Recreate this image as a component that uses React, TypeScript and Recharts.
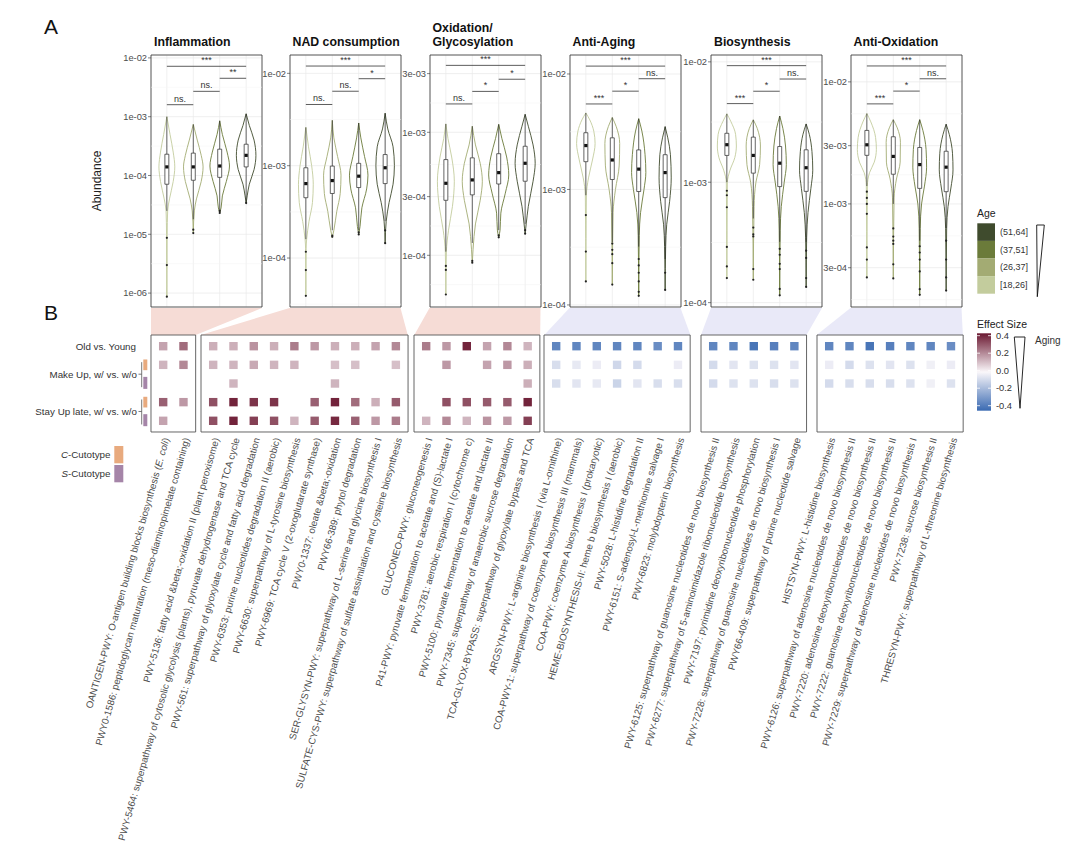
import React from "react";
import {
  ScatterChart,
  Scatter,
  XAxis,
  YAxis,
  CartesianGrid,
  ReferenceLine,
  ReferenceArea,
} from "recharts";

const FONT = "'Liberation Sans', Arial, sans-serif";

// ---------- panel A: abundance by age group ----------
const AGE_GROUPS = ["[18,26]", "(26,37]", "(37,51]", "(51,64]"];
const AGE_COLORS = ["#c3cc9d", "#a3ab73", "#6b7b3a", "#3f4b2d"];

const PANEL_TITLES = [
  ["Inflammation"],
  ["NAD consumption"],
  ["Oxidation/", "Glycosylation"],
  ["Anti-Aging"],
  ["Biosynthesis"],
  ["Anti-Oxidation"],
];

// violin outline: [abundance, half width] from bottom to top
const INFL_VIOLINS = [
  [[8.7e-7, 0], [1.0e-5, 0.012], [2.5e-5, 0.03], [4.0e-5, 0.1], [7.9e-5, 0.24], [1.4e-4, 0.3], [2.5e-4, 0.24], [5.0e-4, 0.12], [1.0e-3, 0]],
  [[1.05e-5, 0], [2.5e-5, 0.04], [4.0e-5, 0.12], [7.9e-5, 0.3], [1.4e-4, 0.37], [2.2e-4, 0.3], [4.0e-4, 0.15], [7.4e-4, 0]],
  [[2.3e-5, 0], [2.8e-5, 0.05], [4.5e-5, 0.1], [7.9e-5, 0.25], [1.45e-4, 0.37], [2.5e-4, 0.28], [5.0e-4, 0.1], [8.5e-4, 0]],
  [[3.4e-5, 0], [4.5e-5, 0.04], [7.1e-5, 0.12], [1.26e-4, 0.3], [2.2e-4, 0.37], [4.0e-4, 0.3], [7.1e-4, 0.12], [1.12e-3, 0]],
];
// [whisker low, q1, median, q3, whisker high]
const INFL_BOXES = [
  [2.5e-5, 7.1e-5, 1.4e-4, 2.3e-4, 1.0e-3],
  [1.8e-5, 8.3e-5, 1.4e-4, 2.4e-4, 7.4e-4],
  [2.3e-5, 9.3e-5, 1.45e-4, 2.8e-4, 8.5e-4],
  [3.4e-5, 1.4e-4, 2.2e-4, 3.4e-4, 1.12e-3],
];
const INFL_OUTLIERS = [[8.7e-6, 3.0e-6, 8.7e-7], [1.2e-5, 1.05e-5], [2.3e-5, 2.5e-5], [3.4e-5]];
const INFL_SIG = [[1, 2, "ns.", 1.6e-3], [2, 3, "ns.", 2.7e-3], [3, 4, "**", 4.5e-3], [1, 4, "***", 7.2e-3]];
const INFL_TICKS = [1e-6, 1e-5, 1e-4, 1e-3, 1e-2];
const INFL_DOMAIN = [5.8e-7, 1.12e-2];

const NAD_VIOLINS = [
  [[3.9e-5, 0], [1.26e-4, 0.01], [1.6e-4, 0.03], [2.5e-4, 0.12], [4.0e-4, 0.25], [6.3e-4, 0.28], [1.0e-3, 0.22], [1.6e-3, 0.1], [2.6e-3, 0]],
  [[1.66e-4, 0], [2.0e-4, 0.06], [3.2e-4, 0.17], [5.0e-4, 0.3], [7.9e-4, 0.33], [1.26e-3, 0.2], [2.0e-3, 0.06], [3.1e-3, 0]],
  [[1.8e-4, 0], [2.2e-4, 0.05], [3.5e-4, 0.12], [5.6e-4, 0.3], [7.9e-4, 0.35], [1.26e-3, 0.22], [2.0e-3, 0.08], [2.9e-3, 0]],
  [[1.45e-4, 0], [2.5e-4, 0.04], [4.0e-4, 0.15], [6.3e-4, 0.3], [1.0e-3, 0.35], [1.6e-3, 0.3], [2.5e-3, 0.1], [3.7e-3, 0]],
];
const NAD_BOXES = [
  [1.6e-4, 4.5e-4, 6.4e-4, 9.5e-4, 2.6e-3],
  [2.0e-4, 5.0e-4, 6.9e-4, 9.9e-4, 3.1e-3],
  [2.0e-4, 5.8e-4, 7.7e-4, 1.06e-3, 2.9e-3],
  [2.5e-4, 6.4e-4, 9.5e-4, 1.32e-3, 3.7e-3],
];
const NAD_OUTLIERS = [[1.17e-4, 7.4e-5, 3.9e-5], [1.7e-4, 1.75e-4], [1.8e-4, 1.9e-4], [2.0e-4, 1.45e-4]];
const NAD_SIG = [[1, 2, "ns.", 4.6e-3], [2, 3, "ns.", 6.4e-3], [3, 4, "*", 8.75e-3], [1, 4, "***", 1.2e-2]];
const NAD_TICKS = [1e-4, 1e-3, 1e-2];
const NAD_DOMAIN = [2.95e-5, 1.58e-2];

const OXI_VIOLINS = [
  [[4.8e-5, 0], [1.07e-4, 0.02], [1.6e-4, 0.1], [2.5e-4, 0.25], [4.0e-4, 0.32], [6.3e-4, 0.22], [8.9e-4, 0.08], [1.17e-3, 0]],
  [[8.7e-5, 0], [1.12e-4, 0.03], [1.8e-4, 0.12], [2.8e-4, 0.3], [4.0e-4, 0.38], [5.6e-4, 0.3], [7.9e-4, 0.12], [1.12e-3, 0]],
  [[1.4e-4, 0], [1.6e-4, 0.05], [2.2e-4, 0.08], [3.2e-4, 0.25], [4.5e-4, 0.38], [6.3e-4, 0.3], [8.9e-4, 0.12], [1.16e-3, 0]],
  [[1.5e-4, 0], [1.8e-4, 0.04], [2.5e-4, 0.12], [4.0e-4, 0.3], [5.6e-4, 0.38], [7.9e-4, 0.3], [1.12e-3, 0.12], [1.4e-3, 0]],
];
const OXI_BOXES = [
  [1.07e-4, 2.8e-4, 3.85e-4, 6.0e-4, 1.17e-3],
  [1.26e-4, 3.1e-4, 4.1e-4, 6.2e-4, 1.12e-3],
  [1.6e-4, 3.8e-4, 4.7e-4, 6.7e-4, 1.16e-3],
  [1.8e-4, 4.0e-4, 5.6e-4, 7.7e-4, 1.4e-3],
];
const OXI_OUTLIERS = [[8.2e-5, 7.6e-5, 4.8e-5], [8.7e-5, 9.0e-5], [1.4e-4, 1.45e-4], [1.5e-4, 1.6e-4]];
const OXI_SIG = [[1, 2, "ns.", 1.7e-3], [2, 3, "*", 2.15e-3], [3, 4, "*", 2.7e-3], [1, 4, "***", 3.5e-3]];
const OXI_TICKS = [1e-4, 3e-4, 1e-3, 3e-3];
const OXI_DOMAIN = [3.8e-5, 4.25e-3];

const AGING_VIOLINS = [
  [[1.6e-4, 0], [8.9e-4, 0.02], [1.26e-3, 0.1], [1.8e-3, 0.25], [2.5e-3, 0.35], [3.2e-3, 0.3], [4.0e-3, 0.15], [4.6e-3, 0]],
  [[1.5e-4, 0], [6.3e-4, 0.03], [1.0e-3, 0.12], [1.6e-3, 0.26], [2.5e-3, 0.28], [3.5e-3, 0.15], [4.2e-3, 0]],
  [[1.2e-4, 0], [4.0e-4, 0.02], [6.3e-4, 0.07], [1.0e-3, 0.2], [1.4e-3, 0.27], [2.0e-3, 0.24], [3.2e-3, 0.12], [4.1e-3, 0]],
  [[1.35e-4, 0], [3.2e-4, 0.02], [5.0e-4, 0.06], [7.9e-4, 0.17], [1.26e-3, 0.23], [2.0e-3, 0.2], [2.8e-3, 0.1], [3.5e-3, 0]],
];
const AGING_BOXES = [
  [8.9e-4, 1.74e-3, 2.4e-3, 3.1e-3, 4.6e-3],
  [3.5e-4, 1.22e-3, 1.8e-3, 2.8e-3, 4.2e-3],
  [3.2e-4, 9.6e-4, 1.5e-3, 2.2e-3, 4.1e-3],
  [2.5e-4, 8.5e-4, 1.4e-3, 2.0e-3, 3.5e-3],
];
const AGING_OUTLIERS = [
  [6.0e-4, 2.9e-4, 1.6e-4],
  [3.4e-4, 3.0e-4, 2.75e-4, 2.3e-4, 1.5e-4],
  [2.5e-4, 2.2e-4, 1.9e-4, 1.6e-4, 1.3e-4, 1.2e-4],
  [1.9e-4, 1.35e-4],
];
const AGING_SIG = [[1, 2, "***", 5.5e-3], [2, 3, "*", 7.1e-3], [3, 4, "ns.", 9.1e-3], [1, 4, "***", 1.17e-2]];
const AGING_TICKS = [1e-4, 1e-3, 1e-2];
const AGING_DOMAIN = [9.6e-5, 1.46e-2];

const BIOS_VIOLINS = [
  [[1.6e-4, 0], [1.0e-3, 0.02], [1.26e-3, 0.12], [1.6e-3, 0.3], [2.0e-3, 0.36], [2.5e-3, 0.33], [3.2e-3, 0.15], [3.7e-3, 0]],
  [[1.55e-4, 0], [6.3e-4, 0.03], [1.0e-3, 0.1], [1.4e-3, 0.24], [2.0e-3, 0.27], [2.8e-3, 0.15], [3.3e-3, 0]],
  [[1.15e-4, 0], [4.0e-4, 0.02], [6.3e-4, 0.06], [1.0e-3, 0.17], [1.4e-3, 0.25], [2.0e-3, 0.22], [2.8e-3, 0.12], [3.55e-3, 0]],
  [[1.35e-4, 0], [3.5e-4, 0.02], [5.6e-4, 0.07], [8.9e-4, 0.18], [1.26e-3, 0.25], [1.8e-3, 0.22], [2.5e-3, 0.12], [3.05e-3, 0]],
];
const BIOS_BOXES = [
  [1.0e-3, 1.67e-3, 2.05e-3, 2.55e-3, 3.7e-3],
  [5.0e-4, 1.19e-3, 1.67e-3, 2.37e-3, 3.3e-3],
  [3.2e-4, 9.2e-4, 1.44e-3, 1.98e-3, 3.55e-3],
  [3.2e-4, 8.4e-4, 1.32e-3, 1.86e-3, 3.05e-3],
];
const BIOS_OUTLIERS = [
  [8.5e-4, 7.8e-4, 6.2e-4, 2.9e-4, 2.0e-4, 1.6e-4],
  [4.2e-4, 3.7e-4, 3.55e-4, 1.9e-4, 1.55e-4],
  [2.8e-4, 2.5e-4, 2.1e-4, 1.9e-4, 1.3e-4, 1.15e-4],
  [2.7e-4, 2.35e-4, 1.6e-4, 1.35e-4],
];
const BIOS_SIG = [[1, 2, "***", 4.5e-3], [2, 3, "*", 5.7e-3], [3, 4, "ns.", 7.2e-3], [1, 4, "***", 9.3e-3]];
const BIOS_TICKS = [1e-4, 1e-3, 1e-2];
const BIOS_DOMAIN = [9.2e-5, 1.14e-2];

const ANTIOX_VIOLINS = [
  [[2.5e-4, 0], [1.4e-3, 0.02], [1.8e-3, 0.1], [2.2e-3, 0.28], [2.8e-3, 0.36], [3.5e-3, 0.33], [4.7e-3, 0.15], [5.5e-3, 0]],
  [[2.45e-4, 0], [1.12e-3, 0.03], [1.6e-3, 0.12], [2.2e-3, 0.26], [3.2e-3, 0.27], [4.2e-3, 0.15], [4.9e-3, 0]],
  [[1.8e-4, 0], [6.3e-4, 0.02], [1.0e-3, 0.07], [1.4e-3, 0.18], [2.0e-3, 0.26], [2.8e-3, 0.24], [4.0e-3, 0.12], [4.9e-3, 0]],
  [[1.95e-4, 0], [6.3e-4, 0.02], [9.5e-4, 0.07], [1.35e-3, 0.18], [1.9e-3, 0.26], [2.6e-3, 0.24], [3.7e-3, 0.12], [4.5e-3, 0]],
];
const ANTIOX_BOXES = [
  [1.4e-3, 2.5e-3, 3.05e-3, 4.0e-3, 5.5e-3],
  [1.0e-3, 1.75e-3, 2.45e-3, 3.55e-3, 4.9e-3],
  [5.0e-4, 1.34e-3, 2.1e-3, 2.9e-3, 4.9e-3],
  [6.3e-4, 1.26e-3, 2.0e-3, 2.7e-3, 4.5e-3],
];
const ANTIOX_OUTLIERS = [
  [1.26e-3, 1.12e-3, 1.0e-3, 8.3e-4, 4.4e-4, 3.5e-4, 2.5e-4],
  [6.3e-4, 5.4e-4, 5.0e-4, 4.7e-4, 3.2e-4, 2.45e-4],
  [4.5e-4, 4.0e-4, 3.5e-4, 2.8e-4, 2.0e-4, 1.8e-4],
  [5.0e-4, 3.5e-4, 2.5e-4, 1.95e-4],
];
const ANTIOX_SIG = [[1, 2, "***", 6.6e-3], [2, 3, "*", 8.4e-3], [3, 4, "ns.", 1.06e-2], [1, 4, "***", 1.35e-2]];
const ANTIOX_TICKS = [3e-4, 1e-3, 3e-3, 1e-2];
const ANTIOX_DOMAIN = [1.43e-4, 1.66e-2];

const PANEL_VIOLINS = [INFL_VIOLINS, NAD_VIOLINS, OXI_VIOLINS, AGING_VIOLINS, BIOS_VIOLINS, ANTIOX_VIOLINS];
const PANEL_BOXES = [INFL_BOXES, NAD_BOXES, OXI_BOXES, AGING_BOXES, BIOS_BOXES, ANTIOX_BOXES];
const PANEL_OUTLIERS = [INFL_OUTLIERS, NAD_OUTLIERS, OXI_OUTLIERS, AGING_OUTLIERS, BIOS_OUTLIERS, ANTIOX_OUTLIERS];
const PANEL_SIG = [INFL_SIG, NAD_SIG, OXI_SIG, AGING_SIG, BIOS_SIG, ANTIOX_SIG];
const PANEL_TICKS = [INFL_TICKS, NAD_TICKS, OXI_TICKS, AGING_TICKS, BIOS_TICKS, ANTIOX_TICKS];
const PANEL_DOMAINS = [INFL_DOMAIN, NAD_DOMAIN, OXI_DOMAIN, AGING_DOMAIN, BIOS_DOMAIN, ANTIOX_DOMAIN];

// ---------- panel B: effect sizes ----------
const PATHWAYS = [
  "OANTIGEN-PWY: O-antigen building blocks biosynthesis (E. coli)",
  "PWY0-1586: peptidoglycan maturation (meso-diaminopimelate containing)",
  "PWY-5136: fatty acid &beta;-oxidation II (plant peroxisome)",
  "PWY-5464: superpathway of cytosolic glycolysis (plants), pyruvate dehydrogenase and TCA cycle",
  "PWY-561: superpathway of glyoxylate cycle and fatty acid degradation",
  "PWY-6353: purine nucleotides degradation II (aerobic)",
  "PWY-6630: superpathway of L-tyrosine biosynthesis",
  "PWY-6969: TCA cycle V (2-oxoglutarate synthase)",
  "PWY0-1337: oleate &beta;-oxidation",
  "PWY66-389: phytol degradation",
  "SER-GLYSYN-PWY: superpathway of L-serine and glycine biosynthesis I",
  "SULFATE-CYS-PWY: superpathway of sulfate assimilation and cysteine biosynthesis",
  "GLUCONEO-PWY: gluconeogenesis I",
  "P41-PWY: pyruvate fermentation to acetate and (S)-lactate I",
  "PWY-3781: aerobic respiration I (cytochrome c)",
  "PWY-5100: pyruvate fermentation to acetate and lactate II",
  "PWY-7345: superpathway of anaerobic sucrose degradation",
  "TCA-GLYOX-BYPASS: superpathway of glyoxylate bypass and TCA",
  "ARGSYN-PWY: L-arginine biosynthesis I (via L-ornithine)",
  "COA-PWY-1: superpathway of coenzyme A biosynthesis III (mammals)",
  "COA-PWY: coenzyme A biosynthesis I (prokaryotic)",
  "HEME-BIOSYNTHESIS-II: heme b biosynthesis I (aerobic)",
  "PWY-5028: L-histidine degradation II",
  "PWY-6151: S-adenosyl-L-methionine salvage I",
  "PWY-6823: molybdopterin biosynthesis",
  "PWY-6125: superpathway of guanosine nucleotides de novo biosynthesis II",
  "PWY-6277: superpathway of 5-aminoimidazole ribonucleotide biosynthesis",
  "PWY-7197: pyrimidine deoxyribonucleotide phosphorylation",
  "PWY-7228: superpathway of guanosine nucleotides de novo biosynthesis I",
  "PWY66-409: superpathway of purine nucleotide salvage",
  "HISTSYN-PWY: L-histidine biosynthesis",
  "PWY-6126: superpathway of adenosine nucleotides de novo biosynthesis II",
  "PWY-7220: adenosine deoxyribonucleotides de novo biosynthesis II",
  "PWY-7222: guanosine deoxyribonucleotides de novo biosynthesis II",
  "PWY-7229: superpathway of adenosine nucleotides de novo biosynthesis I",
  "PWY-7238: sucrose biosynthesis II",
  "THRESYN-PWY: superpathway of L-threonine biosynthesis",
];
const GROUP_SIZES = [2, 10, 6, 7, 5, 7];

const OLD_VS_YOUNG = [
  0.15, 0.25,
  0.13, 0.13, 0.18, 0.13, 0.22, 0.17, 0.13, 0.13, 0.15, 0.2,
  0.22, 0.17, 0.38, 0.15, 0.2, 0.12,
  -0.32, -0.32, -0.32, -0.32, -0.32, -0.3, -0.32,
  -0.32, -0.32, -0.37, -0.34, -0.32,
  -0.32, -0.32, -0.37, -0.34, -0.32, -0.32, -0.3,
];
const MAKEUP_C = [
  0.12, 0.2,
  0.12, 0.12, 0.14, 0.12, 0.12, null, 0.1, 0.1, null, 0.1,
  null, 0.17, null, 0.15, 0.17, 0.13,
  -0.07, -0.04, -0.03, -0.09, -0.08, null, -0.03,
  -0.08, -0.05, -0.06, -0.06, -0.05,
  -0.03, -0.08, -0.06, -0.05, -0.06, -0.02, -0.03,
];
const MAKEUP_S = [
  null, null,
  null, 0.12, null, null, null, null, 0.12, null, null, null,
  null, null, null, null, null, 0.13,
  -0.07, -0.05, -0.04, -0.1, -0.05, -0.07, -0.07,
  -0.08, -0.06, -0.06, -0.07, -0.06,
  -0.08, -0.07, -0.07, -0.07, -0.06, -0.02, -0.06,
];
const STAYUP_C = [
  0.27, 0.17,
  0.3, 0.38, 0.35, 0.35, null, 0.27, 0.38, 0.25, 0.13, 0.28,
  null, 0.3, 0.3, 0.28, 0.28, 0.38,
  null, null, null, null, null, null, null,
  null, null, null, null, null,
  null, null, null, null, null, null, null,
];
const STAYUP_S = [
  0.15, null,
  0.3, 0.38, 0.33, 0.3, 0.12, 0.28, 0.37, 0.27, 0.17, 0.22,
  0.12, 0.2, 0.12, 0.18, 0.17, 0.33,
  null, null, null, null, null, null, null,
  null, null, null, null, null,
  null, null, null, null, null, null, null,
];
const HEAT_ROWS = [OLD_VS_YOUNG, MAKEUP_C, MAKEUP_S, STAYUP_C, STAYUP_S];
const ROW_LABELS = ["Old vs. Young", "Make Up, w/ vs. w/o", "Stay Up late, w/ vs. w/o"];
const ROW_LABEL_AT = [1, 2.5, 4.5];
const CUTOTYPES = ["C", "S"];
const CUTO_COLORS = ["#e8aa7e", "#a585a8"];
const EFFECT_TICKS = [0.4, 0.2, 0, -0.2, -0.4];

// ---------- layout ----------
const PANEL_LEFT = [151, 289.5, 429.5, 569.5, 711, 850.5];
const PANEL_W = 111;
const PANEL_TOP = 55;
const PANEL_H = 252;
const Y_AXIS_W = 30;
const HEAT_LEFT = [151, 200.7, 414.3, 544.3, 701, 816.7];
const HEAT_TOP = 335;
const HEAT_H = 97;
const COL_PITCH = 20.3;
const ROW_AXIS_W = 20;
const LABEL_AXIS_H = 20;

const fmtExp = (v: number) => {
  const [m, e] = v.toExponential(0).split("e");
  return `${m}e${e[0]}${e.slice(1).padStart(2, "0")}`;
};

const minorBreaks = (ticks: number[], domain: number[]) => {
  const out: number[] = [];
  for (let i = 0; i < ticks.length - 1; i++) out.push(Math.sqrt(ticks[i] * ticks[i + 1]));
  const lowStep = Math.sqrt(ticks[1] / ticks[0]);
  const highStep = Math.sqrt(ticks[ticks.length - 1] / ticks[ticks.length - 2]);
  out.push(ticks[0] / lowStep, ticks[ticks.length - 1] * highStep);
  return out.filter((v) => v > domain[0] && v < domain[1]);
};

const effectColor = (v: number) => {
  const t = Math.min(1, Math.abs(v) / 0.4);
  const end = v >= 0 ? [107, 24, 49] : [58, 106, 178];
  const start = [250, 247, 250];
  const c = start.map((s, i) => Math.round(s + (end[i] - s) * t));
  return `rgb(${c[0]},${c[1]},${c[2]})`;
};

const noShape = () => <g />;
const medianShape = (p: any) => <rect x={p.cx - 1.6} y={p.cy - 1.6} width={3.2} height={3.2} fill="#111" />;
const outlierShape = (p: any) => <circle cx={p.cx} cy={p.cy} r={1.1} fill="#222" />;
const sigLabelShape = (p: any) => (
  <text x={p.cx} y={p.cy - 3} textAnchor="middle" fontSize={9} fill="#333" fontFamily={FONT}>
    {p.payload.label}
  </text>
);

function ViolinPanel({ k }: { k: number }) {
  const domain = PANEL_DOMAINS[k];
  const ticks = PANEL_TICKS[k];
  const minors = minorBreaks(ticks, domain);
  const items: React.ReactNode[] = [];
  const bw = 0.075;

  PANEL_VIOLINS[k].forEach((prof, i) => {
    const c = i + 1;
    const left = prof.map(([v, hw]) => ({ x: c - hw, y: v })).reverse();
    const right = prof.map(([v, hw]) => ({ x: c + hw, y: v })).reverse();
    [left, right].forEach((side, s) =>
      items.push(
        <Scatter
          key={`v${i}${s}`}
          data={side}
          line={{ stroke: AGE_COLORS[i], strokeWidth: 0.9, fill: "none" }}
          lineJointType="monotoneY"
          shape={noShape}
          isAnimationActive={false}
        />
      )
    );
    const [lo, q1, med, q3, hi] = PANEL_BOXES[k][i];
    items.push(
      <Scatter key={`wl${i}`} data={[{ x: c, y: lo }, { x: c, y: q1 }]} line={{ stroke: "#222", strokeWidth: 0.7, fill: "none" }} shape={noShape} isAnimationActive={false} />,
      <Scatter key={`wh${i}`} data={[{ x: c, y: q3 }, { x: c, y: hi }]} line={{ stroke: "#222", strokeWidth: 0.7, fill: "none" }} shape={noShape} isAnimationActive={false} />,
      <Scatter
        key={`b${i}`}
        data={[
          { x: c - bw, y: q1 },
          { x: c + bw, y: q1 },
          { x: c + bw, y: q3 },
          { x: c - bw, y: q3 },
          { x: c - bw, y: q1 },
        ]}
        line={{ stroke: "#222", strokeWidth: 0.7, fill: "#fff" }}
        shape={noShape}
        isAnimationActive={false}
      />,
      <Scatter key={`m${i}`} data={[{ x: c, y: med }]} shape={medianShape} isAnimationActive={false} />,
      <Scatter key={`o${i}`} data={PANEL_OUTLIERS[k][i].map((v) => ({ x: c, y: v }))} shape={outlierShape} isAnimationActive={false} />
    );
  });

  PANEL_SIG[k].forEach(([a, b, label, h], j) => {
    items.push(
      <Scatter
        key={`s${j}`}
        data={[{ x: a, y: h }, { x: b, y: h }]}
        line={{ stroke: "#333", strokeWidth: 0.8, fill: "none" }}
        shape={noShape}
        isAnimationActive={false}
      />,
      <Scatter
        key={`sl${j}`}
        data={[{ x: ((a as number) + (b as number)) / 2, y: h, label }]}
        shape={sigLabelShape}
        isAnimationActive={false}
      />
    );
  });

  return (
    <div style={{ position: "absolute", left: PANEL_LEFT[k] - Y_AXIS_W, top: PANEL_TOP }}>
      <ScatterChart width={Y_AXIS_W + PANEL_W} height={PANEL_H} margin={{ top: 0, right: 0, bottom: 0, left: 0 }}>
        <CartesianGrid stroke="#e8e8e8" strokeWidth={0.7} />
        {minors.map((m) => (
          <ReferenceLine key={m} y={m} stroke="#f3f3f3" strokeWidth={0.5} />
        ))}
        <XAxis type="number" dataKey="x" domain={[0.4, 4.6]} ticks={[1, 2, 3, 4]} hide />
        <YAxis
          type="number"
          dataKey="y"
          scale="log"
          domain={domain}
          allowDataOverflow
          ticks={ticks}
          interval={0}
          tickFormatter={fmtExp}
          width={Y_AXIS_W}
          axisLine={false}
          tickSize={3}
          tickMargin={1}
          tickLine={{ stroke: "#333", strokeWidth: 0.6 }}
          tick={{ fontSize: 9.3, fill: "#4d4d4d", fontFamily: FONT }}
        />
        {items}
        <ReferenceArea x1={0.4} x2={4.6} y1={domain[0]} y2={domain[1]} fill="none" stroke="#333" strokeWidth={0.8} />
      </ScatterChart>
    </div>
  );
}

function renderName(name: string) {
  const key = "E. coli";
  const at = name.indexOf(key);
  if (at < 0) return name;
  return [
    name.slice(0, at),
    <tspan key="it" fontStyle="italic">{key}</tspan>,
    name.slice(at + key.length),
  ];
}

function PathwayTick({ x, y, payload, start }: any) {
  const name = PATHWAYS[start + payload.value - 1];
  return (
    <text
      transform={`translate(${x + 3},${y + 6}) rotate(-74)`}
      textAnchor="end"
      dy="0.35em"
      fontSize={9.7}
      fill="#4d4d4d"
      fontFamily={FONT}
    >
      {renderName(name)}
    </text>
  );
}

function RowTick({ x, y, payload }: any) {
  const idx = ROW_LABEL_AT.indexOf(payload.value);
  const grouped = idx > 0;
  return (
    <g>
      <text x={x - (grouped ? 14 : 15)} y={y} dy="0.35em" textAnchor="end" fontSize={9.8} fill="#333" fontFamily={FONT}>
        {ROW_LABELS[idx]}
      </text>
      {grouped && (
        <g>
          <line x1={x - 12.5} x2={x - 9.3} y1={y} y2={y} stroke="#555" strokeWidth={0.8} />
          <line x1={x - 9.3} x2={x - 9.3} y1={y - 12} y2={y + 13} stroke="#555" strokeWidth={0.8} />
          <rect x={x - 7.7} y={y - 14.7} width={4} height={10.7} fill={CUTO_COLORS[0]} />
          <rect x={x - 7.7} y={y + 2.7} width={4} height={12} fill={CUTO_COLORS[1]} />
        </g>
      )}
    </g>
  );
}

const heatCellShape = (p: any) => (
  <rect x={p.cx - 4.2} y={p.cy - 4.2} width={8.4} height={8.4} fill={effectColor(p.payload.v)} />
);

function HeatBox({ g }: { g: number }) {
  const start = GROUP_SIZES.slice(0, g).reduce((s, n) => s + n, 0);
  const n = GROUP_SIZES[g];
  const cells: { x: number; y: number; v: number }[] = [];
  HEAT_ROWS.forEach((row, r) => {
    for (let j = 0; j < n; j++) {
      const v = row[start + j];
      if (v !== null) cells.push({ x: j + 1, y: r + 1, v: v as number });
    }
  });
  const colTicks = Array.from({ length: n }, (_, j) => j + 1);
  const w = (n + 0.2) * COL_PITCH;
  const axisW = g === 0 ? ROW_AXIS_W : 0;
  return (
    <div style={{ position: "absolute", left: HEAT_LEFT[g] - axisW, top: HEAT_TOP }}>
      <ScatterChart width={w + axisW} height={HEAT_H + LABEL_AXIS_H} margin={{ top: 0, right: 0, bottom: 0, left: 0 }}>
        <XAxis
          type="number"
          dataKey="x"
          domain={[0.4, n + 0.6]}
          ticks={colTicks}
          interval={0}
          height={LABEL_AXIS_H}
          axisLine={false}
          tickLine={false}
          tickSize={0}
          tickMargin={0}
          tick={(p: any) => <PathwayTick {...p} start={start} />}
        />
        <YAxis
          type="number"
          dataKey="y"
          domain={[0.4, 5.6]}
          reversed
          ticks={ROW_LABEL_AT}
          interval={0}
          width={axisW}
          hide={g !== 0}
          axisLine={false}
          tickLine={false}
          tickSize={0}
          tickMargin={0}
          tick={(p: any) => <RowTick {...p} />}
        />
        <ReferenceArea x1={0.4} x2={n + 0.6} y1={0.4} y2={5.6} fill="none" stroke="#555" strokeWidth={0.9} />
        <Scatter data={cells} shape={heatCellShape} isAnimationActive={false} />
      </ScatterChart>
    </div>
  );
}

function Overlay() {
  const topY = PANEL_TOP + PANEL_H + 1;
  const botY = HEAT_TOP;
  const esY = (v: number) => 370.7 - (v / 0.4) * 35;
  return (
    <svg width={1080} height={853} style={{ position: "absolute", left: 0, top: 0 }} fontFamily={FONT}>
      <defs>
        <linearGradient id="esGrad" x1="0" y1="0" x2="0" y2="1">
          <stop offset="0%" stopColor="#6b1831" />
          <stop offset="50%" stopColor="#faf7fa" />
          <stop offset="100%" stopColor="#3a6ab2" />
        </linearGradient>
      </defs>
      {PANEL_LEFT.map((pl, k) => {
        const hl = HEAT_LEFT[k];
        const hw = (GROUP_SIZES[k] + 0.2) * COL_PITCH;
        return (
          <polygon
            key={k}
            points={`${pl},${topY} ${pl + PANEL_W},${topY} ${hl + hw},${botY} ${hl},${botY}`}
            fill={k < 3 ? "#f6dcd6" : "#e9e9f8"}
          />
        );
      })}
      <text x={44} y={34} fontSize={21} fill="#111">A</text>
      <text x={44} y={320} fontSize={21} fill="#111">B</text>
      {PANEL_TITLES.map((lines, k) =>
        lines.map((t, j) => (
          <text key={`${k}-${j}`} x={PANEL_LEFT[k] + 3} y={46 - (lines.length - 1 - j) * 14} fontSize={12.3} fontWeight="bold" fill="#111">
            {t}
          </text>
        ))
      )}
      <text transform="translate(101,181) rotate(-90)" textAnchor="middle" fontSize={12} fill="#222">
        Abundance
      </text>

      {/* age legend */}
      <text x={977} y={217} fontSize={10.5} fill="#222">Age</text>
      {[...AGE_GROUPS].reverse().map((g, i) => (
        <g key={g}>
          <rect x={977.3} y={223.3 + i * 17.6} width={17.7} height={17.6} fill={AGE_COLORS[3 - i]} />
          <text x={1000} y={232.1 + i * 17.6} dy="0.35em" fontSize={9} fill="#333">{g}</text>
        </g>
      ))}
      <polygon points="1036.7,225 1044.3,225 1037.3,296.7" fill="#fff" stroke="#111" strokeWidth={0.9} />

      {/* effect size legend */}
      <text x={977} y={328} fontSize={10.5} fill="#222">Effect Size</text>
      <rect x={977} y={333.3} width={14} height={77.4} fill="url(#esGrad)" />
      {EFFECT_TICKS.map((v) => (
        <g key={v}>
          <line x1={977} x2={980} y1={esY(v)} y2={esY(v)} stroke="#fff" strokeWidth={0.8} />
          <line x1={988} x2={991} y1={esY(v)} y2={esY(v)} stroke="#fff" strokeWidth={0.8} />
          <text x={996} y={esY(v)} dy="0.35em" fontSize={9.3} fill="#333">{v.toFixed(1)}</text>
        </g>
      ))}
      <polygon points="1014.3,337 1025,337 1020,408.3" fill="#fff" stroke="#111" strokeWidth={0.9} />
      <text x={1035} y={344} fontSize={10} fill="#333">Aging</text>

      {/* cutotype legend */}
      {CUTOTYPES.map((c, i) => (
        <g key={c}>
          <rect x={114.3} y={446 + i * 19} width={9} height={17.3} fill={CUTO_COLORS[i]} />
          <text x={110.5} y={454.6 + i * 19} dy="0.35em" textAnchor="end" fontSize={9.8} fill="#333">
            <tspan fontStyle="italic">{c}</tspan>-Cutotype
          </text>
        </g>
      ))}
    </svg>
  );
}

export default function App() {
  return (
    <div style={{ position: "absolute", left: 0, top: 0, width: 1080, height: 853, background: "#fff", overflow: "hidden", fontFamily: FONT }}>
      <style>{".recharts-surface{overflow:visible}"}</style>
      <Overlay />
      {PANEL_LEFT.map((_, k) => (
        <ViolinPanel key={k} k={k} />
      ))}
      {GROUP_SIZES.map((_, g) => (
        <HeatBox key={g} g={g} />
      ))}
    </div>
  );
}
